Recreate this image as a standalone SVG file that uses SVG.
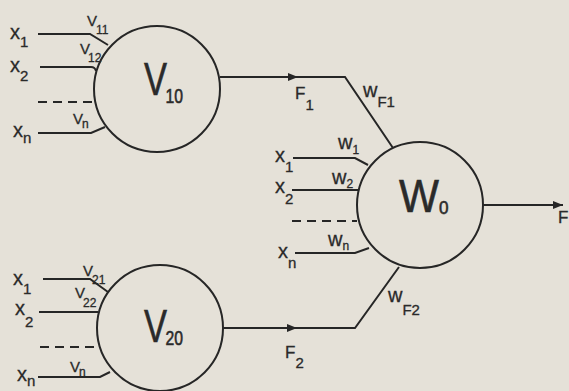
<svg xmlns="http://www.w3.org/2000/svg" width="569" height="391" viewBox="0 0 569 391">
<defs>
<style>
.ln{fill:none;stroke:#262626;stroke-width:2;stroke-linecap:butt;stroke-linejoin:miter}
.ds{fill:none;stroke:#262626;stroke-width:2;stroke-dasharray:9 6}
.nd{fill:none;stroke:#262626;stroke-width:2}
text{font-family:"Liberation Sans",Arial,sans-serif;fill:#2a2a2a;stroke:#2a2a2a;stroke-width:0.3}
.lab{font-size:20px}
.sub{font-size:15px}
.vl{font-size:15px}
.vs{font-size:12px}
.big{font-size:46px;stroke-width:0.6}
.bsub{font-size:21px}
</style>
<marker id="ah" viewBox="0 0 10 8" refX="10" refY="4" markerWidth="10" markerHeight="8" markerUnits="userSpaceOnUse" orient="auto">
<path d="M0,0 L10,4 L0,8 Z" fill="#262626"/>
</marker>
</defs>
<rect width="569" height="391" fill="#e5e1d8"/>

<g id="V10">
<circle class="nd" cx="157" cy="89" r="63"/>
<text class="big" transform="translate(144,95) scale(0.75,1)">V<tspan class="bsub" dx="-2" dy="8">10</tspan></text>
</g>

<g id="V20">
<circle class="nd" cx="160" cy="328" r="63"/>
<text class="big" transform="translate(144,342) scale(0.75,1)">V<tspan class="bsub" dx="-2" dy="3">20</tspan></text>
</g>

<g id="W0">
<circle class="nd" cx="420" cy="205" r="63"/>
<text class="big" transform="translate(399,212) scale(0.9,1)" style="font-size:47px">W<tspan style="font-size:19px" dx="0" dy="2">0</tspan></text>
</g>

<g id="connectors">
<!-- V10 inputs -->
<path class="ln" d="M38,34 H90 L108,45"/>
<path class="ln" d="M40,67 H91 Q95,67 96,71"/>
<path class="ds" d="M38,102 H95"/>
<path class="ln" d="M38,133 H91 L105,127"/>
<!-- V20 inputs -->
<path class="ln" d="M43,279 H90 L108,292"/>
<path class="ln" d="M39,312 H98"/>
<path class="ds" d="M40,347 H98"/>
<path class="ln" d="M38,377 H100 L110,372"/>
<!-- W0 inputs -->
<path class="ln" d="M293,158 H355 L368,165"/>
<path class="ln" d="M292,190 H358"/>
<path class="ds" d="M292,221 H357"/>
<path class="ln" d="M295,253 H355 L369,248"/>
<!-- F1 -->
<path class="ln" d="M220,77 H345 L393,148"/>
<path class="ln" d="M285,77 H298" marker-end="url(#ah)"/>
<!-- F2 -->
<path class="ln" d="M222,328 H355 L399,267"/>
<path class="ln" d="M284,328 H297" marker-end="url(#ah)"/>
<!-- output -->
<path class="ln" d="M483,205 H563" marker-end="url(#ah)"/>

<!-- labels V10 -->
<text class="lab" x="10" y="39">x<tspan class="sub" dy="8">1</tspan></text>
<text class="lab" x="10" y="72">x<tspan class="sub" dy="9">2</tspan></text>
<text class="lab" x="13" y="137">x<tspan class="sub" dy="6">n</tspan></text>
<text class="vl" x="87" y="26">V<tspan class="vs" dx="-1" dy="8">11</tspan></text>
<text class="vl" x="80" y="54">V<tspan class="vs" dx="-2" dy="8">12</tspan></text>
<text class="vl" x="73" y="124">V<tspan class="vs" dx="-1" dy="4">n</tspan></text>
<!-- labels V20 -->
<text class="lab" x="13" y="285">x<tspan class="sub" dy="9">1</tspan></text>
<text class="lab" x="15" y="315">x<tspan class="sub" dy="12">2</tspan></text>
<text class="lab" x="17" y="381">x<tspan class="sub" dy="5">n</tspan></text>
<text class="vl" x="83" y="276">V<tspan class="vs" dx="-1" dy="8">21</tspan></text>
<text class="vl" x="75" y="298">V<tspan class="vs" dx="-2" dy="9">22</tspan></text>
<text class="vl" x="70" y="372">V<tspan class="vs" dx="-1" dy="4">n</tspan></text>
<!-- labels W0 -->
<text class="lab" x="275" y="162">x<tspan class="sub" dy="10">1</tspan></text>
<text class="lab" x="275" y="193">x<tspan class="sub" dy="11">2</tspan></text>
<text class="lab" x="278" y="258">x<tspan class="sub" dy="10">n</tspan></text>
<text class="lab" x="338" y="149">w<tspan class="vs" dy="5">1</tspan></text>
<text class="lab" x="332" y="184">w<tspan class="vs" dy="4">2</tspan></text>
<text class="lab" x="328" y="246">w<tspan class="vs" dy="4">n</tspan></text>
<!-- F labels -->
<text class="vl" x="295" y="99" style="font-size:17px">F<tspan class="sub" dy="11">1</tspan></text>
<text class="lab" x="363" y="97">w<tspan class="sub" dy="10">F1</tspan></text>
<text class="vl" x="285" y="358" style="font-size:17px">F<tspan class="sub" dy="10">2</tspan></text>
<text class="lab" x="388" y="302">w<tspan class="sub" dy="13">F2</tspan></text>
<text class="vl" x="558" y="223" style="font-size:17px">F</text>
</g>
</svg>
